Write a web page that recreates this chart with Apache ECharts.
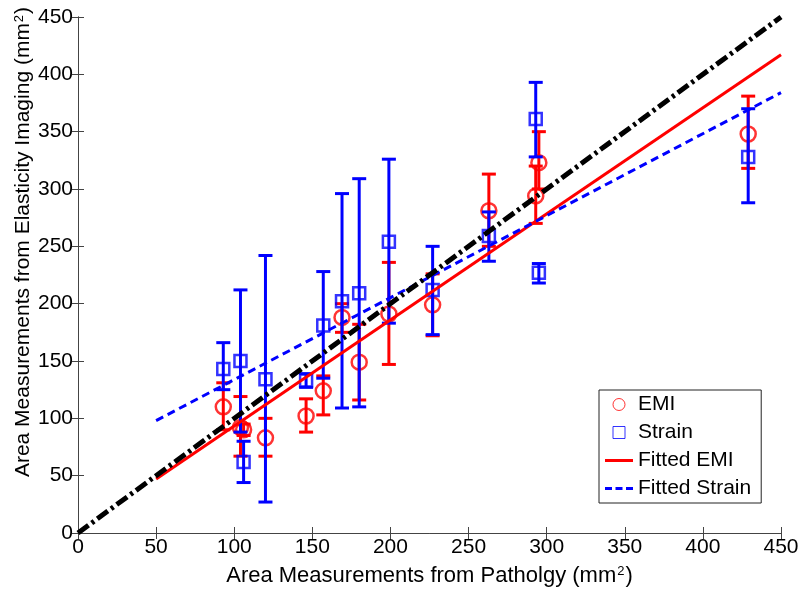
<!DOCTYPE html>
<html>
<head>
<meta charset="utf-8">
<script src="https://cdn.jsdelivr.net/npm/echarts@6/dist/echarts.min.js"></script>
<style>html,body{margin:0;padding:0;background:#fff;}#c{width:800px;height:597px;}</style>
</head>
<body>
<div id="c"></div>
<script>
const pathX      = [93, 104, 106, 120, 146, 157, 169, 180, 199, 227, 263, 293, 295, 429];
const emiY       = [110, 92, 90, 83, 102, 124, 188, 149, 191, 199, 281, 294, 323, 348];
const emiLow     = [90, 67, 85, 67, 88, 103, 175, 116, 147, 172, 250, 270, 300, 318];
const emiHigh    = [131, 119, 95, 100, 117, 137, 200, 182, 236, 226, 313, 320, 350, 381];
const strainY    = [143, 150, 62, 134, 133, 181, 202, 209, 254, 212, 259, 361, 227, 328];
const strainLow  = [125, 88, 44, 27, 127, 135, 109, 110, 183, 173, 237, 328, 218, 288];
const strainHigh = [166, 212, 80, 242, 139, 228, 296, 309, 326, 250, 280, 393, 235, 370];
const fitX       = [50, 450];
const fitEmiY    = [47, 417];
const fitStrainY = [98, 384];
const identX     = [0, 450];
const identY     = [0, 450];
const tickLabels = ['0', '50', '100', '150', '200', '250', '300', '350', '400', '450'];

const RED = '#ff0000', BLUE = '#0000ff';
const FONT = 'Liberation Sans, Arial, sans-serif';

function errRender(color) {
  return function (params, api) {
    const x = api.value(0), lo = api.value(1), hi = api.value(2);
    const p1 = api.coord([x, lo]), p2 = api.coord([x, hi]);
    const w = 7;
    const st = { stroke: color, lineWidth: 3 };
    return { type: 'group', children: [
      { type: 'line', shape: { x1: p1[0], y1: p1[1], x2: p2[0], y2: p2[1] }, style: st },
      { type: 'line', shape: { x1: p1[0]-w, y1: p1[1], x2: p1[0]+w, y2: p1[1] }, style: st },
      { type: 'line', shape: { x1: p2[0]-w, y1: p2[1], x2: p2[0]+w, y2: p2[1] }, style: st }
    ]};
  };
}

const chart = echarts.init(document.getElementById('c'));
const axisCommon = {
  type: 'value', min: 0, max: 450, interval: 50,
  axisLine: { show: true, lineStyle: { color: '#444', width: 1 } },
  axisTick: { show: true, inside: true, length: 6, lineStyle: { color: '#444' } },
  splitLine: { show: false }
};
const nameRich = {
  a: { fontSize: 21, fontFamily: FONT, color: '#000' },
  s: { fontSize: 13, fontFamily: FONT, color: '#000', verticalAlign: 'top', padding: [0, 1, 0, 1] }
};
chart.setOption({
  animation: false,
  backgroundColor: '#fff',
  grid: { left: 78, right: 19, top: 17, bottom: 64, containLabel: false, outerBoundsMode: 'none' },
  xAxis: [
    Object.assign({}, axisCommon, {
      position: 'bottom',
      axisLabel: { color: '#000', fontSize: 21, fontFamily: FONT, margin: 4,
        formatter: v => tickLabels[Math.round(v / 50)] },
      name: '{a|Area Measurements from Patholgy (mm}{s|2}{a|)}', nameLocation: 'middle', nameGap: 32,
      nameMoveOverlap: false,
      nameTextStyle: { rich: Object.assign({}, nameRich, { a: Object.assign({}, nameRich.a, { fontSize: 22 }) }) }
    }),
    Object.assign({}, axisCommon, { position: 'top', axisLabel: { show: false } })
  ],
  yAxis: [
    Object.assign({}, axisCommon, {
      position: 'left',
      axisLabel: { color: '#000', fontSize: 21, fontFamily: FONT, margin: 5,
        formatter: v => tickLabels[Math.round(v / 50)] },
      name: '{a|Area Measurements from Elasticity Imaging (mm}{s|2}{a|)}', nameLocation: 'middle', nameGap: 44,
      nameMoveOverlap: false,
      nameTextStyle: { rich: nameRich, padding: [0, 0, 0, 66] }
    }),
    Object.assign({}, axisCommon, { position: 'right', axisLabel: { show: false } })
  ],
  legend: {
    orient: 'vertical', left: 599, top: 390,
    padding: [4, 10, 4, 6],
    itemGap: 7, itemWidth: 28, itemHeight: 12,
    backgroundColor: '#fff', borderColor: '#222', borderWidth: 1,
    textStyle: { color: '#000', fontSize: 21, lineHeight: 21, fontFamily: FONT },
    data: [
      { name: 'EMI', icon: 'circle', itemStyle: { color: 'rgba(255,255,255,0)', borderColor: RED, borderWidth: 1 } },
      { name: 'Strain', icon: 'path://M0,0H10V10H0Z', itemStyle: { color: 'rgba(255,255,255,0)', borderColor: BLUE, borderWidth: 1 } },
      { name: 'Fitted EMI', icon: 'path://M0,0H28V3H0Z', itemStyle: { color: RED, borderWidth: 0 } },
      { name: 'Fitted Strain', icon: 'path://M0,0H7V3H0Z M10.5,0H17.5V3H10.5Z M21,0H28V3H21Z', itemStyle: { color: BLUE, borderWidth: 0 } }
    ]
  },
  series: [
    { name: 'EMIerr', type: 'custom', renderItem: errRender(RED), z: 2,
      encode: { x: 0, y: [1, 2] }, data: pathX.map((x, i) => [x, emiLow[i], emiHigh[i]]) },
    { name: 'EMI', type: 'scatter', symbol: 'circle', symbolSize: 15, z: 3,
      itemStyle: { color: 'rgba(255,255,255,0)', borderColor: RED, borderWidth: 2.5 },
      data: pathX.map((x, i) => [x, emiY[i]]) },
    { name: 'Strainerr', type: 'custom', renderItem: errRender(BLUE), z: 4,
      encode: { x: 0, y: [1, 2] }, data: pathX.map((x, i) => [x, strainLow[i], strainHigh[i]]) },
    { name: 'Strain', type: 'scatter', symbol: 'rect', symbolSize: 12, z: 5,
      itemStyle: { color: 'rgba(255,255,255,0)', borderColor: BLUE, borderWidth: 2.5 },
      data: pathX.map((x, i) => [x, strainY[i]]) },
    { name: 'Fitted EMI', type: 'line', symbol: 'none', z: 6,
      lineStyle: { color: RED, width: 3 }, itemStyle: { color: RED },
      data: fitX.map((x, i) => [x, fitEmiY[i]]) },
    { name: 'Fitted Strain', type: 'line', symbol: 'none', z: 7,
      lineStyle: { color: BLUE, width: 3, type: [8, 5] }, itemStyle: { color: BLUE },
      data: fitX.map((x, i) => [x, fitStrainY[i]]) },
    { name: 'Identity', type: 'line', symbol: 'none', z: 8,
      lineStyle: { color: '#000', width: 5, type: [13, 4, 3, 4] },
      data: identX.map((x, i) => [x, identY[i]]) }
  ]
});
</script>
</body>
</html>
